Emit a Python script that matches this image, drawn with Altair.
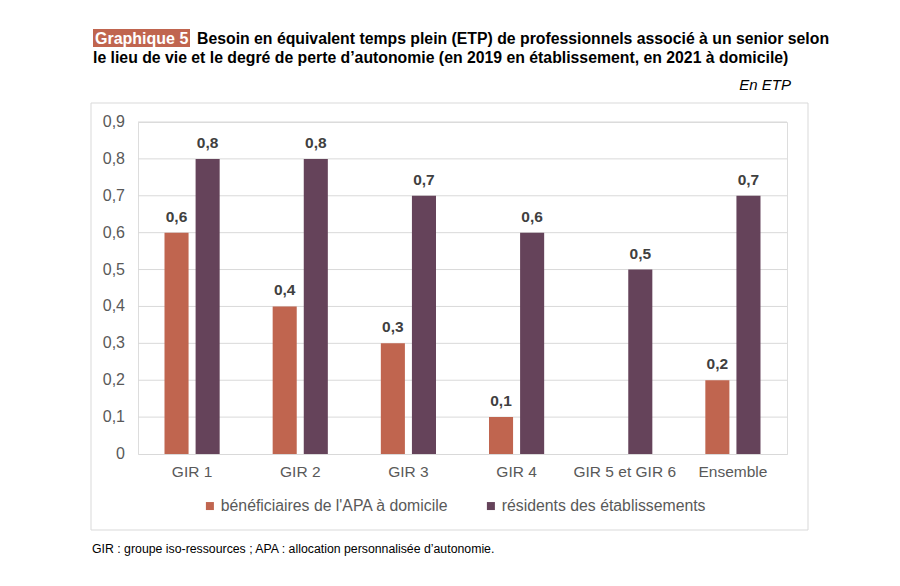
import altair as alt
import pandas as pd

categories = ["GIR 1", "GIR 2", "GIR 3", "GIR 4", "GIR 5 et GIR 6", "Ensemble"]
series = ["bénéficiaires de l'APA à domicile", "résidents des établissements"]
apa_domicile = [0.6, 0.4, 0.3, 0.1, None, 0.2]
residents = [0.8, 0.8, 0.7, 0.6, 0.5, 0.7]
y_ticks = [0.1, 0.2, 0.3, 0.4, 0.5, 0.6, 0.7, 0.8, 0.9]
y_tick_labels = ["0", "0,1", "0,2", "0,3", "0,4", "0,5", "0,6", "0,7", "0,8", "0,9"]
colors = ["#C0654F", "#65435A"]

rows = []
for i, c in enumerate(categories):
    if apa_domicile[i] is not None:
        rows.append({"cat": c, "serie": series[0], "val": apa_domicile[i]})
    rows.append({"cat": c, "serie": series[1], "val": residents[i]})
df = pd.DataFrame(rows)

tick_df = pd.DataFrame({"val": [0.0] + y_ticks, "lab": y_tick_labels})
grid_df = pd.DataFrame({"val": y_ticks})

W, H = 649, 332
FONT = "Liberation Sans"

yscale = alt.Scale(domain=[0, 0.9], nice=False)
x_enc = alt.X("cat:N", sort=categories, title=None,
              scale=alt.Scale(paddingInner=0.49, paddingOuter=0.245),
              axis=alt.Axis(labelAngle=0, labelFontSize=15.5, labelColor="#595959",
                            labelFont=FONT, ticks=False, domainColor="#d9d9d9",
                            labelPadding=10, grid=False, labelLimit=0))
xo_enc = alt.XOffset("serie:N", sort=series, scale=alt.Scale(paddingInner=0.226, paddingOuter=0))
y_enc = alt.Y("val:Q", title=None, scale=yscale, axis=None)

grid = alt.Chart(grid_df).mark_rule(color="#d9d9d9", strokeWidth=1).encode(
    y=y_enc, x=alt.value(0), x2=alt.value(W))
ylabels = alt.Chart(tick_df).mark_text(
    align="right", baseline="middle", fontSize=16, font=FONT, color="#595959"
).encode(y=y_enc, x=alt.value(-13), text="lab:N")

base = alt.Chart(df)
bars = base.mark_bar().encode(
    x=x_enc, xOffset=xo_enc, y=y_enc,
    color=alt.Color("serie:N", sort=series, title=None,
                    scale=alt.Scale(domain=series, range=colors),
                    legend=alt.Legend(orient="none", direction="horizontal",
                                      legendX=64, legendY=376, symbolType="square",
                                      symbolSize=64, labelFontSize=15.8, labelFont=FONT,
                                      labelColor="#595959", columnPadding=34,
                                      symbolStrokeWidth=0, labelOffset=3, labelLimit=0)),
)
labels = base.transform_calculate(
    lab="replace(format(datum.val, '.1f'), '.', ',')"
).mark_text(dy=-8, baseline="bottom", fontSize=15.5, fontWeight="bold",
            font=FONT, color="#404040").encode(
    x=x_enc, xOffset=xo_enc, y=y_enc, text="lab:N")

one = alt.Data(values=[{"a": 1}])
border = alt.Chart(one).mark_rect(fillOpacity=0, stroke="#d9d9d9", strokeWidth=1).encode(
    x=alt.value(-47), x2=alt.value(670), y=alt.value(-19), y2=alt.value(408))
tagbox = alt.Chart(one).mark_rect(fill="#C0654F").encode(
    x=alt.value(-45), x2=alt.value(52), y=alt.value(-93), y2=alt.value(-75))

def txt(s, x, y, **kw):
    opts = dict(font=FONT, baseline="alphabetic")
    opts.update(kw)
    return alt.Chart(one).mark_text(**opts).encode(
        x=alt.value(x), y=alt.value(y), text=alt.value(s))

tag = txt("Graphique 5", -43, -78, fontSize=16, fontWeight="bold", color="white", align="left")
t1 = txt("Besoin en équivalent temps plein (ETP) de professionnels associé à un senior selon",
         59, -78, fontSize=15.8, fontWeight="bold", color="#000000", align="left")
t2 = txt("le lieu de vie et le degré de perte d’autonomie (en 2019 en établissement, en 2021 à domicile)",
         -45, -59, fontSize=15.8, fontWeight="bold", color="#000000", align="left")
unit = txt("En ETP", 653, -32, fontSize=15, fontStyle="italic", color="#000000", align="right")
foot = txt("GIR : groupe iso-ressources ; APA : allocation personnalisée d’autonomie.",
           -46, 431, fontSize=12.3, color="#000000", align="left")

chart = alt.layer(border, grid, ylabels, bars, labels, tagbox, tag, t1, t2, unit, foot).properties(
    width=W, height=H,
    autosize=alt.AutoSizeParams(type="none"),
    padding={"left": 130, "top": 114, "right": 105, "bottom": 124},
).configure_view(stroke=None).configure(background="white")

chart.save("out.html", embed_options={"renderer": "svg", "actions": False})
